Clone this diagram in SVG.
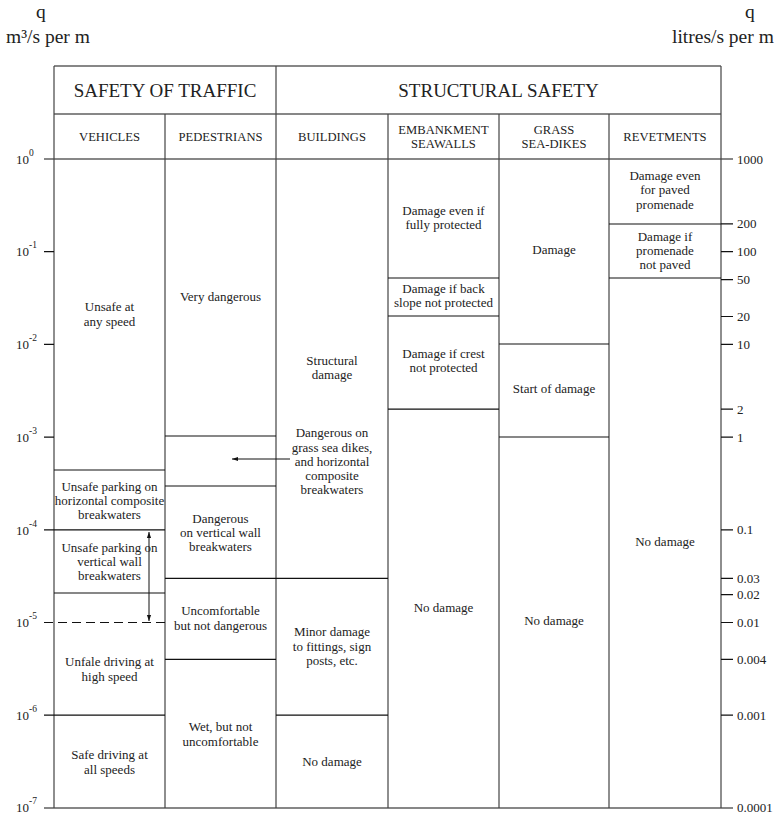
<svg xmlns="http://www.w3.org/2000/svg" width="777" height="817" viewBox="0 0 777 817" font-family="'Liberation Serif', 'DejaVu Serif', serif">
<style>
text{font-family:"Liberation Serif","DejaVu Serif",serif;fill:#222;}
.c{font-size:13px;text-anchor:middle;}
.s{font-size:12.6px;text-anchor:middle;}
.h{font-size:19px;text-anchor:middle;}
.u{font-size:19.5px;}
.ax{font-size:13px;}
.sup{font-size:9.5px;}
.v{stroke:#444;stroke-width:1.2;fill:none;}
.hl{stroke:#111;stroke-width:1.2;fill:none;}
.dash{stroke:#111;stroke-width:1.2;stroke-dasharray:9,5;fill:none;}
.arr{stroke:#111;stroke-width:1;fill:none;}
</style>
<defs>
<marker id="ah" viewBox="0 0 10 10" refX="10" refY="5" markerWidth="6" markerHeight="6" orient="auto-start-reverse" markerUnits="userSpaceOnUse">
<path d="M0,1.5 L10,5 L0,8.5 z" fill="#111"/>
</marker>
</defs>
<rect width="777" height="817" fill="#fff"/>

<g id="units">
<text class="u" x="36" y="18">q</text>
<text class="u" x="6" y="43">m³/s per m</text>
<text class="u" x="745" y="18">q</text>
<text class="u" x="672" y="43">litres/s per m</text>
</g>

<g id="frame">
<path class="hl" d="M54,66 H721 M54,114 H721 M44,159 H733 M44,808 H733"/>
<path class="v" d="M54,66 V808 M721,66 V808 M276,66 V808 M165,114 V808 M388,114 V808 M499,114 V808 M609,114 V808"/>
</g>

<g id="left-axis">
<path class="hl" d="M44,251.7 H54 M44,344.4 H54 M44,437.1 H54 M44,529.8 H54 M44,715.2 H54"/>
<text class="ax" x="16" y="164">10<tspan class="sup" dy="-8">0</tspan></text>
<text class="ax" x="16" y="256">10<tspan class="sup" dy="-8">-1</tspan></text>
<text class="ax" x="16" y="349">10<tspan class="sup" dy="-8">-2</tspan></text>
<text class="ax" x="16" y="442">10<tspan class="sup" dy="-8">-3</tspan></text>
<text class="ax" x="16" y="535">10<tspan class="sup" dy="-8">-4</tspan></text>
<text class="ax" x="16" y="627">10<tspan class="sup" dy="-8">-5</tspan></text>
<text class="ax" x="16" y="720">10<tspan class="sup" dy="-8">-6</tspan></text>
<text class="ax" x="16" y="812">10<tspan class="sup" dy="-8">-7</tspan></text>
</g>

<g id="right-axis">
<path class="hl" d="M721,223.8 H733 M721,251.7 H733 M721,279.6 H733 M721,316.5 H733 M721,344.4 H733 M721,409.2 H733 M721,437.1 H733 M721,529.8 H733 M721,578.3 H733 M721,594.6 H733 M721,622.5 H733 M721,659.4 H733 M721,715.2 H733"/>
<text class="ax" x="737" y="164">1000</text>
<text class="ax" x="737" y="228">200</text>
<text class="ax" x="737" y="256">100</text>
<text class="ax" x="737" y="284">50</text>
<text class="ax" x="737" y="321">20</text>
<text class="ax" x="737" y="349">10</text>
<text class="ax" x="737" y="414">2</text>
<text class="ax" x="737" y="442">1</text>
<text class="ax" x="737" y="534">0.1</text>
<text class="ax" x="737" y="583">0.03</text>
<text class="ax" x="737" y="599">0.02</text>
<text class="ax" x="737" y="627">0.01</text>
<text class="ax" x="737" y="664">0.004</text>
<text class="ax" x="737" y="720">0.001</text>
<text class="ax" x="737" y="812">0.0001</text>
</g>

<g id="headers">
<text class="h" x="165" y="97">SAFETY OF TRAFFIC</text>
<text class="h" x="498.5" y="97">STRUCTURAL SAFETY</text>
<text class="s" x="109.5" y="141">VEHICLES</text>
<text class="s" x="220.5" y="141">PEDESTRIANS</text>
<text class="s" x="332" y="141">BUILDINGS</text>
<text class="s" x="443.5" y="134">EMBANKMENT</text>
<text class="s" x="443.5" y="148">SEAWALLS</text>
<text class="s" x="554" y="134">GRASS</text>
<text class="s" x="554" y="148">SEA-DIKES</text>
<text class="s" x="665" y="141">REVETMENTS</text>
</g>

<g id="vehicles">
<path class="hl" d="M54,470 H165 M54,529.8 H165 M54,593 H165 M54,715.2 H165"/>
<path class="dash" d="M44,622.5 H165"/>
<text class="c" x="109.5" y="311">Unsafe at</text>
<text class="c" x="109.5" y="326">any speed</text>
<text class="c" x="109.5" y="491">Unsafe parking on</text>
<text class="c" x="109.5" y="505">horizontal composite</text>
<text class="c" x="109.5" y="519">breakwaters</text>
<text class="c" x="109.5" y="552">Unsafe parking on</text>
<text class="c" x="109.5" y="566">vertical  wall</text>
<text class="c" x="109.5" y="580">breakwaters</text>
<text class="c" x="109.5" y="666">Unfale driving at</text>
<text class="c" x="109.5" y="681">high speed</text>
<text class="c" x="109.5" y="759">Safe driving at</text>
<text class="c" x="109.5" y="774">all speeds</text>
</g>

<g id="pedestrians">
<path class="hl" d="M165,436 H276 M165,486 H276 M165,578.3 H276 M165,659.4 H276"/>
<text class="c" x="220.5" y="301">Very dangerous</text>
<text class="c" x="220.5" y="523">Dangerous</text>
<text class="c" x="220.5" y="537">on vertical wall</text>
<text class="c" x="220.5" y="551">breakwaters</text>
<text class="c" x="220.5" y="615">Uncomfortable</text>
<text class="c" x="220.5" y="629.5">but not dangerous</text>
<text class="c" x="220.5" y="731">Wet, but not</text>
<text class="c" x="220.5" y="745.5">uncomfortable</text>
</g>

<g id="buildings">
<path class="hl" d="M276,578.3 H388 M276,715.2 H388"/>
<text class="c" x="332" y="365">Structural</text>
<text class="c" x="332" y="379">damage</text>
<text class="c" x="332" y="437">Dangerous on</text>
<text class="c" x="332" y="452">grass sea dikes,</text>
<text class="c" x="332" y="466">and horizontal</text>
<text class="c" x="332" y="480">composite</text>
<text class="c" x="332" y="494">breakwaters</text>
<text class="c" x="332" y="636">Minor damage</text>
<text class="c" x="332" y="651">to fittings, sign</text>
<text class="c" x="332" y="665">posts, etc.</text>
<text class="c" x="332" y="766">No damage</text>
</g>

<g id="embankment">
<path class="hl" d="M388,278 H499 M388,316 H499 M388,409.2 H499"/>
<text class="c" x="443.5" y="215">Damage even if</text>
<text class="c" x="443.5" y="229">fully protected</text>
<text class="c" x="443.5" y="293">Damage if back</text>
<text class="c" x="443.5" y="307">slope not protected</text>
<text class="c" x="443.5" y="358">Damage if crest</text>
<text class="c" x="443.5" y="372">not protected</text>
<text class="c" x="443.5" y="612">No damage</text>
</g>

<g id="grass">
<path class="hl" d="M499,344 H609 M499,437 H609"/>
<text class="c" x="554" y="254">Damage</text>
<text class="c" x="554" y="393">Start of damage</text>
<text class="c" x="554" y="625">No damage</text>
</g>

<g id="revetments">
<path class="hl" d="M609,224 H721 M609,278 H721"/>
<text class="c" x="665" y="180">Damage even</text>
<text class="c" x="665" y="194">for paved</text>
<text class="c" x="665" y="209">promenade</text>
<text class="c" x="665" y="241">Damage if</text>
<text class="c" x="665" y="255">promenade</text>
<text class="c" x="665" y="269">not paved</text>
<text class="c" x="665" y="546">No damage</text>
</g>

<g id="connectors">
<path class="arr" d="M290,459 H232" marker-end="url(#ah)"/>
<path class="arr" d="M149,532 V621" marker-start="url(#ah)" marker-end="url(#ah)"/>
</g>
</svg>
